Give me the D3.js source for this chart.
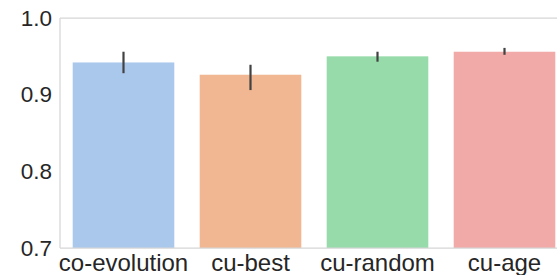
<!DOCTYPE html>
<html>
<head>
<meta charset="utf-8">
<script src="https://cdn.jsdelivr.net/npm/d3@7"></script>
<style>
  html, body { margin: 0; padding: 0; background: #fff; }
  svg { display: block; }
  text { font-family: "Liberation Sans", Arial, sans-serif; fill: #262626; }
</style>
</head>
<body>
<svg id="chart" width="557" height="275"></svg>
<script>
// datos
const metodos = ["co-evolution", "cu-best", "cu-random", "cu-age"];
const medias = [0.942, 0.926, 0.950, 0.956];
const errInf = [0.928, 0.906, 0.943, 0.952];
const errSup = [0.956, 0.939, 0.956, 0.961];
const ticksY = [0.7, 0.8, 0.9, 1.0];
const colores = ["#aac8ec", "#f0b792", "#98dbaa", "#f1aaa8"];

const svg = d3.select("#chart");

const izq = 60, arriba = 18, abajo = 248;
const paso = 127;

const x = d3.scaleBand()
    .domain(metodos)
    .range([izq, izq + paso * metodos.length])
    .paddingInner(0.2)
    .paddingOuter(0.1);

const y = d3.scaleLinear()
    .domain([0.7, 1.0])
    .range([abajo, arriba]);

// spines izquierdo y superior
svg.append("line")
    .attr("x1", izq).attr("x2", izq)
    .attr("y1", arriba).attr("y2", abajo)
    .attr("stroke", "#d6d6d6").attr("stroke-width", 1.25);
svg.append("line")
    .attr("x1", izq).attr("x2", 557)
    .attr("y1", arriba).attr("y2", arriba)
    .attr("stroke", "#d6d6d6").attr("stroke-width", 1.25);

// barras
svg.selectAll("rect.barra")
    .data(metodos)
    .join("rect")
    .attr("class", "barra")
    .attr("x", d => x(d))
    .attr("width", x.bandwidth())
    .attr("y", (d, i) => y(medias[i]))
    .attr("height", (d, i) => y(0.7) - y(medias[i]))
    .attr("fill", (d, i) => colores[i]);

svg.append("line")
    .attr("x1", izq).attr("x2", 557)
    .attr("y1", abajo).attr("y2", abajo)
    .attr("stroke", "#d6d6d6").attr("stroke-width", 1.25);

// barras de error
svg.selectAll("line.error")
    .data(metodos)
    .join("line")
    .attr("class", "error")
    .attr("x1", d => x(d) + x.bandwidth() / 2)
    .attr("x2", d => x(d) + x.bandwidth() / 2)
    .attr("y1", (d, i) => y(errInf[i]))
    .attr("y2", (d, i) => y(errSup[i]))
    .attr("stroke", "#424242")
    .attr("stroke-width", 2.2);

// etiquetas eje y
const ejeY = svg.append("g")
    .attr("transform", `translate(${izq},0)`)
    .call(d3.axisLeft(y).tickValues(ticksY).tickFormat(d3.format(".1f")).tickSize(0).tickPadding(8));
ejeY.select(".domain").remove();
ejeY.selectAll("text")
    .attr("font-size", 22.5)
    .attr("fill", "#262626")
    .style("font-family", "'Liberation Sans', Arial, sans-serif");

// etiquetas eje x
const ejeX = svg.append("g")
    .attr("transform", `translate(0,${abajo})`)
    .call(d3.axisBottom(x).tickSize(0).tickPadding(0));
ejeX.select(".domain").remove();
ejeX.selectAll("text")
    .attr("dy", null)
    .attr("y", 22.5)
    .attr("font-size", 24)
    .attr("fill", "#262626")
    .style("font-family", "'Liberation Sans', Arial, sans-serif");
</script>
</body>
</html>
